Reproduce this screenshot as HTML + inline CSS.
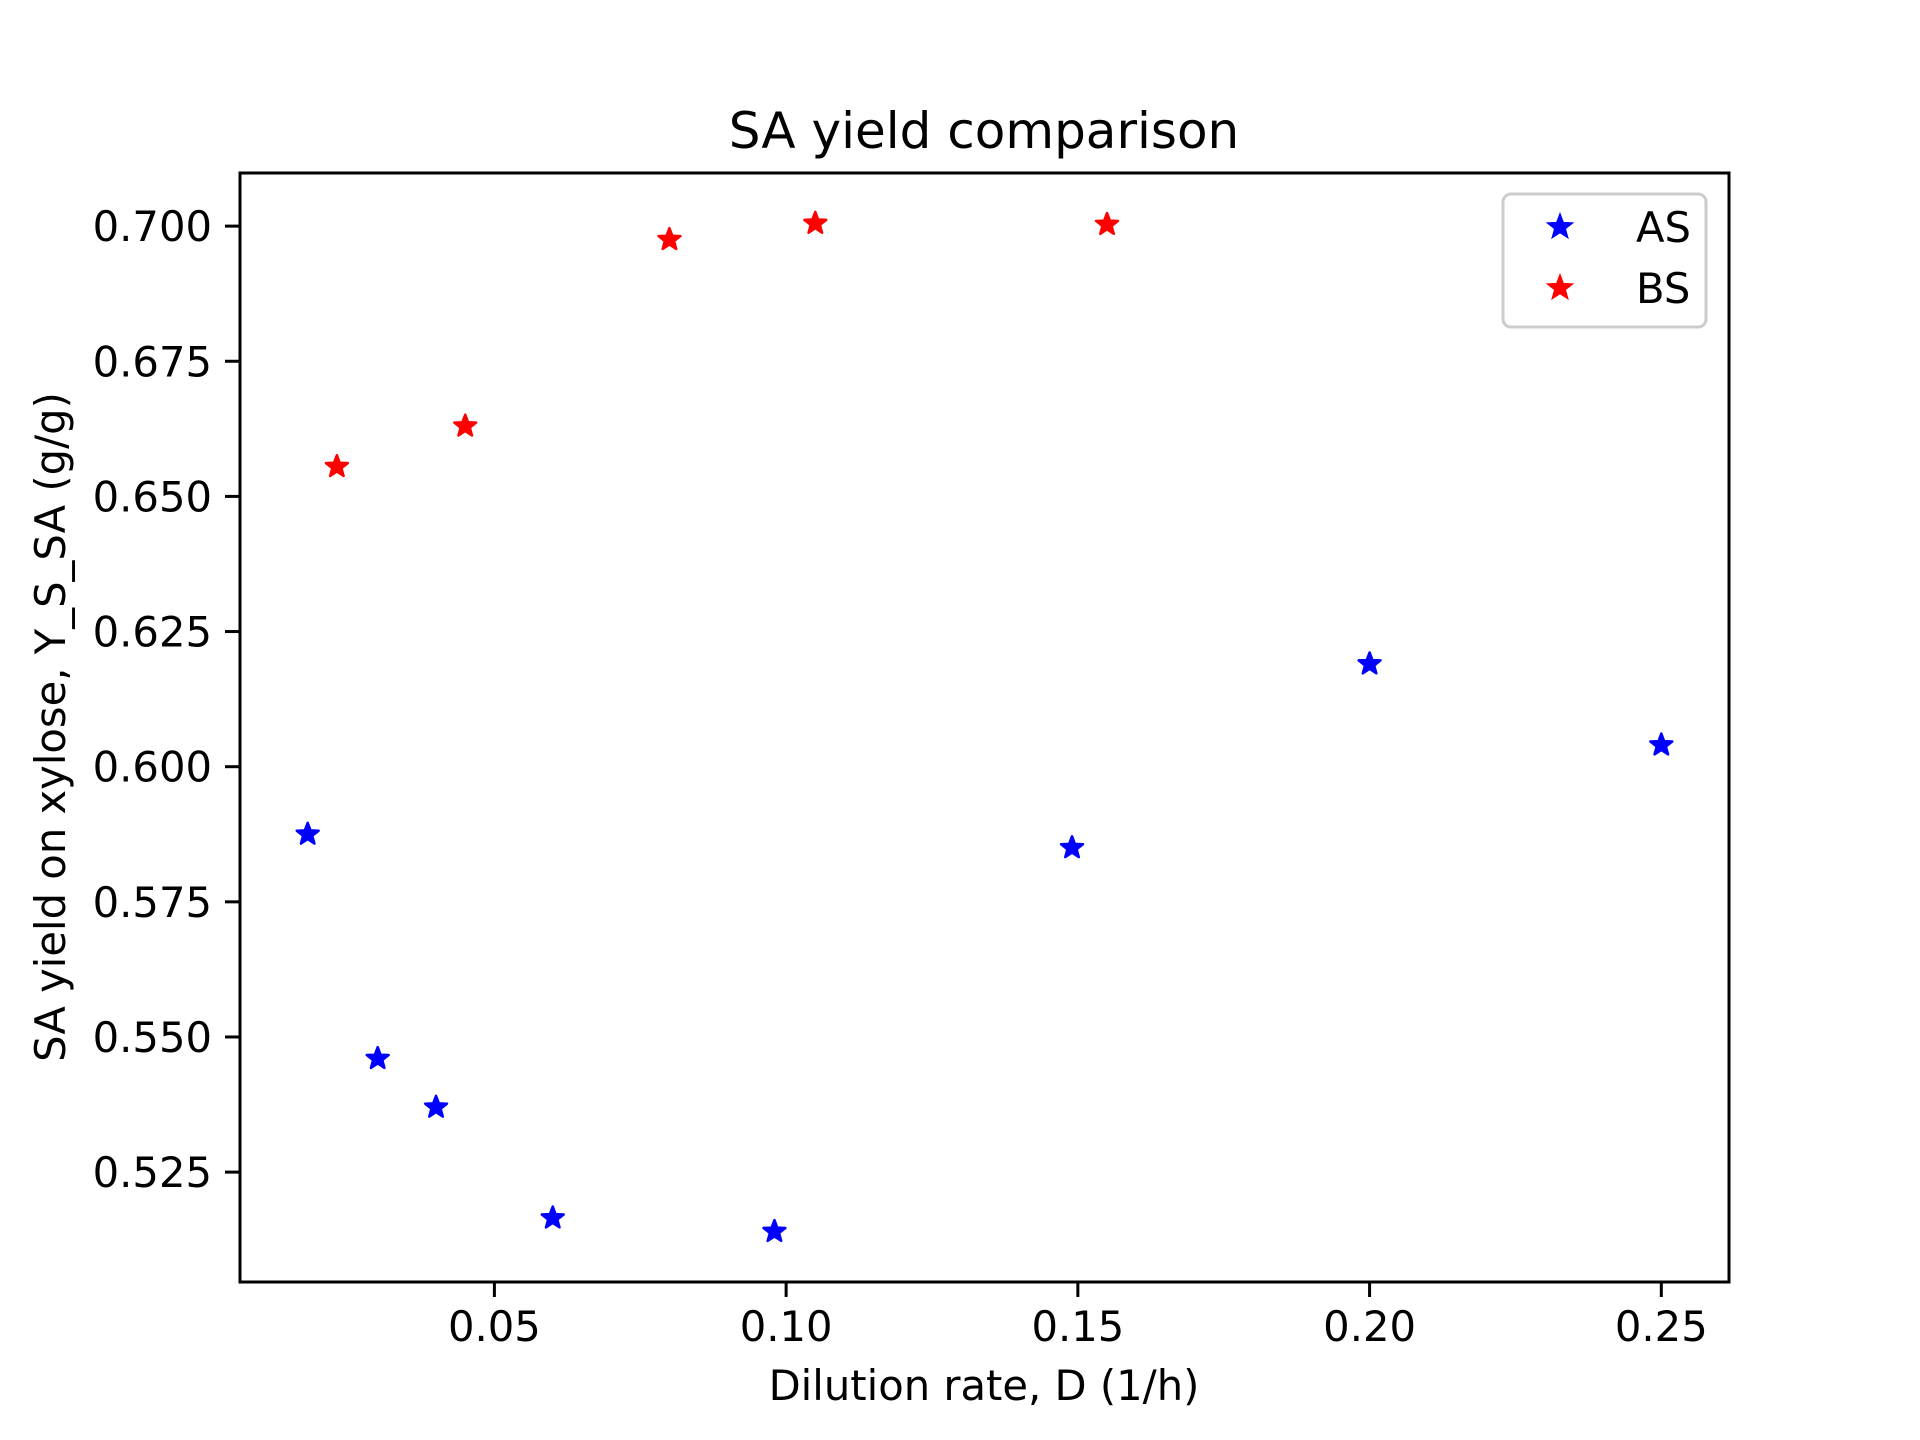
<!DOCTYPE html>
<html><head><meta charset="utf-8"><style>
html,body{margin:0;padding:0;background:#fff;}
svg{display:block;font-family:"DejaVu Sans","Liberation Sans",sans-serif;}
</style></head><body>
<svg id="chart" width="1920" height="1440" viewBox="0 0 1920 1440" xmlns="http://www.w3.org/2000/svg">
<rect width="1920" height="1440" fill="#fff"/>
<text x="984" y="148" font-size="50" text-anchor="middle">SA yield comparison</text>
<g id="marks"></g>
<g id="axes"></g>
<rect x="240" y="173" width="1489" height="1109" fill="none" stroke="#000" stroke-width="3"/>
<text x="984" y="1400" font-size="41.7" text-anchor="middle">Dilution rate, D (1/h)</text>
<text transform="translate(65,727) rotate(-90)" font-size="41.7" text-anchor="middle">SA yield on xylose, Y_S_SA (g/g)</text>
<g>
<rect x="1503" y="194" width="203" height="133" rx="8" fill="#fff" fill-opacity="0.8" stroke="#ccc" stroke-width="3"/>
<g id="legend-items"></g>
</g>
</svg>
<script>
const asX = [0.018, 0.030, 0.040, 0.060, 0.098, 0.149, 0.200, 0.250];
const asY = [0.5875, 0.546, 0.537, 0.5165, 0.514, 0.585, 0.619, 0.604];
const bsX = [0.023, 0.045, 0.080, 0.105, 0.155];
const bsY = [0.6555, 0.663, 0.6975, 0.7005, 0.7003];
const xTicks = [0.05, 0.10, 0.15, 0.20, 0.25];
const xTickLabels = ["0.05", "0.10", "0.15", "0.20", "0.25"];
const yTicks = [0.525, 0.550, 0.575, 0.600, 0.625, 0.650, 0.675, 0.700];
const yTickLabels = ["0.525", "0.550", "0.575", "0.600", "0.625", "0.650", "0.675", "0.700"];

const NS = "http://www.w3.org/2000/svg";
const L = 240, R = 1729, T = 173, B = 1282;
const allX = asX.concat(bsX), allY = asY.concat(bsY);
let x0 = Math.min(...allX), x1 = Math.max(...allX);
let y0 = Math.min(...allY), y1 = Math.max(...allY);
const dx = (x1 - x0) * 0.05, dy = (y1 - y0) * 0.05;
x0 -= dx; x1 += dx; y0 -= dy; y1 += dy;
function sx(v){ return L + (v - x0) / (x1 - x0) * (R - L); }
function sy(v){ return B - (v - y0) / (y1 - y0) * (B - T); }
function starPts(cx, cy, r){
  const ri = r * 0.42, p = [];
  for (let i = 0; i < 10; i++){
    const a = -Math.PI/2 + i * Math.PI/5, rr = i % 2 ? ri : r;
    p.push((cx + rr*Math.cos(a)).toFixed(2) + "," + (cy + rr*Math.sin(a)).toFixed(2));
  }
  return p.join(" ");
}
const marks = document.getElementById("marks");
function drawSeries(xs, ys, color, name){
  xs.forEach((v, i) => {
    const s = document.createElementNS(NS, "polygon");
    s.setAttribute("points", starPts(sx(v), sy(ys[i]), 11.5));
    s.setAttribute("fill", color);
    s.setAttribute("stroke", color);
    s.setAttribute("stroke-width", "2.5");
    s.setAttribute("stroke-linejoin", "round");
    
    
    marks.appendChild(s);
  });
}
drawSeries(asX, asY, "#0000ff", "as");
drawSeries(bsX, bsY, "#ff0000", "bs");

const axes = document.getElementById("axes");
xTicks.forEach((v, i) => {
  const x = sx(v);
  const t = document.createElementNS(NS, "line");
  t.setAttribute("x1", x); t.setAttribute("x2", x);
  t.setAttribute("y1", B); t.setAttribute("y2", B + 15);
  t.setAttribute("stroke", "#000"); t.setAttribute("stroke-width", "3");
  
  
  axes.appendChild(t);
  const tx = document.createElementNS(NS, "text");
  tx.setAttribute("x", x); tx.setAttribute("y", B + 59);
  tx.setAttribute("font-size", "41.7"); tx.setAttribute("text-anchor", "middle");
  tx.textContent = xTickLabels[i];
  
  
  axes.appendChild(tx);
});
yTicks.forEach((v, i) => {
  const y = sy(v);
  const t = document.createElementNS(NS, "line");
  t.setAttribute("x1", L - 15); t.setAttribute("x2", L);
  t.setAttribute("y1", y); t.setAttribute("y2", y);
  t.setAttribute("stroke", "#000"); t.setAttribute("stroke-width", "3");
  
  
  axes.appendChild(t);
  const tx = document.createElementNS(NS, "text");
  tx.setAttribute("x", L - 28); tx.setAttribute("y", y + 15);
  tx.setAttribute("font-size", "41.7"); tx.setAttribute("text-anchor", "end");
  tx.textContent = yTickLabels[i];
  
  
  axes.appendChild(tx);
});

const li = document.getElementById("legend-items");
[["AS", "#0000ff", 227], ["BS", "#ff0000", 288]].forEach(([lab, col, y]) => {
  const s = document.createElementNS(NS, "polygon");
  s.setAttribute("points", starPts(1560, y, 11.5));
  s.setAttribute("fill", col); s.setAttribute("stroke", col); s.setAttribute("stroke-width", "2.5");
  
  
  li.appendChild(s);
  const t = document.createElementNS(NS, "text");
  t.setAttribute("x", 1636); t.setAttribute("y", y + 15);
  t.setAttribute("font-size", "41.7");
  t.textContent = lab;
  
  
  li.appendChild(t);
});
</script>
</body></html>
